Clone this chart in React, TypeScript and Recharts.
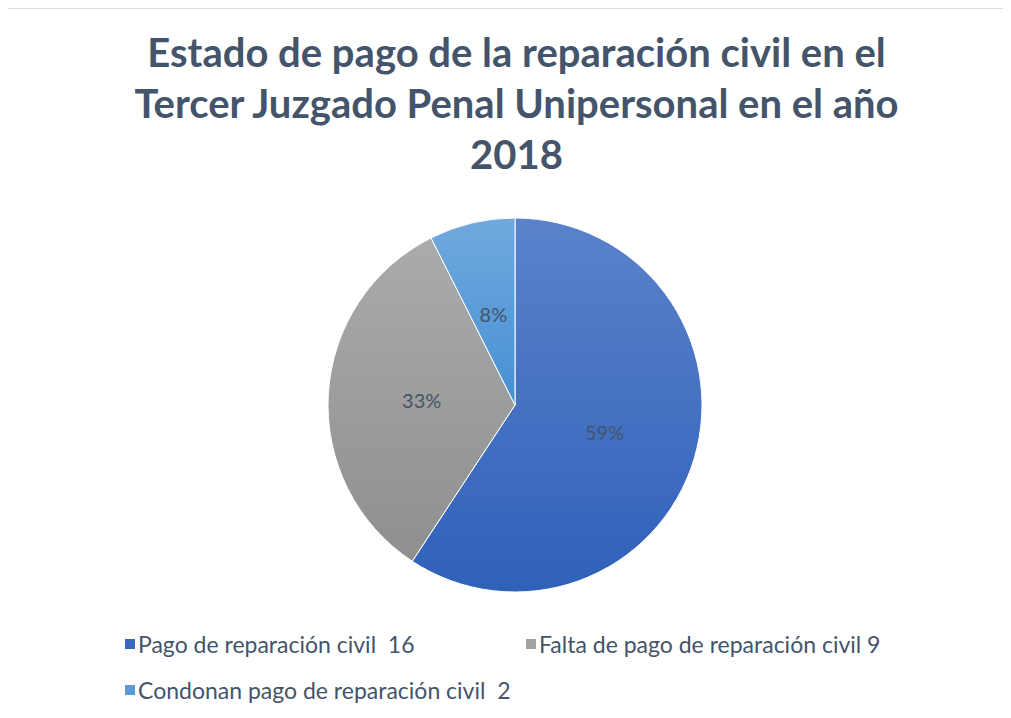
import React from "react";
import { PieChart, Pie, Cell, Legend } from "recharts";

const categories = [
  "Pago de reparación civil  16",
  "Falta de pago de reparación civil 9",
  "Condonan pago de reparación civil  2",
];
const values = [16, 9, 2];
const percentLabels = ["59%", "33%", "8%"];

const gradients = [
  ["#5b82cb", "#2f61b9"],
  ["#ababab", "#8f8f8f"],
  ["#70a9de", "#4690d3"],
];
const legendColors = ["#3a67be", "#a2a2a2", "#5a9bd8"];

const data = categories.map((name, i) => ({ name, value: values[i], label: percentLabels[i] }));

const RAD = Math.PI / 180;

const renderLabel = (props: any) => {
  const { cx, cy, midAngle, outerRadius, index } = props;
  const r = outerRadius * 0.5;
  const x = cx + r * Math.cos(-midAngle * RAD);
  const y = cy + r * Math.sin(-midAngle * RAD);
  return (
    <text
      x={x}
      y={y}
      textAnchor="middle"
      dominantBaseline="central"
      fill="#44546a"
      fontSize={20}
      fontFamily="Lato, sans-serif"
    >
      {percentLabels[index]}
    </text>
  );
};

const itemWidths = [401, 399, 800];

const renderLegend = () => (
  <div style={{ display: "flex", flexWrap: "wrap", width: 800, fontFamily: "Lato, sans-serif", fontSize: 23, color: "#44546a" }}>
    {categories.map((c, i) => (
      <div key={c} style={{ display: "flex", alignItems: "center", width: itemWidths[i], height: 46 }}>
        <span style={{ display: "inline-block", width: 10, height: 10, background: legendColors[i], marginRight: 3 }} />
        <span style={{ whiteSpace: "pre" }}>{c}</span>
      </div>
    ))}
  </div>
);

export default function App() {
  return (
    <div style={{ position: "relative", width: 1011, height: 718, margin: -8, overflow: "hidden", background: "#fff" }}>
      <div
        style={{
          position: "absolute",
          left: 0,
          top: 27,
          width: 1033,
          textAlign: "center",
          fontFamily: "Lato, sans-serif",
          fontWeight: 700,
          fontSize: 40,
          lineHeight: "51px",
          color: "#44546a",
        }}
      >
        Estado de pago de la reparación civil en el
        <br />
        Tercer Juzgado Penal Unipersonal en el año
        <br />
        2018
      </div>
      <PieChart
        width={1011}
        height={718}
        margin={{ top: 0, right: 0, bottom: 0, left: 0 }}
        style={{ position: "absolute", left: 0, top: 0 }}
      >
        <defs>
          {gradients.map((g, i) => (
            <linearGradient key={i} id={`grad${i}`} x1="0" y1="0" x2="0" y2="1">
              <stop offset="0%" stopColor={g[0]} />
              <stop offset="100%" stopColor={g[1]} />
            </linearGradient>
          ))}
        </defs>
        <Pie
          data={data}
          dataKey="value"
          nameKey="name"
          cx={515}
          cy={405}
          outerRadius={187}
          startAngle={90}
          endAngle={-270}
          stroke="#ffffff"
          strokeWidth={1}
          label={renderLabel}
          labelLine={false}
          isAnimationActive={false}
        >
          {data.map((d, i) => (
            <Cell key={d.name} fill={`url(#grad${i})`} />
          ))}
        </Pie>
        <Legend content={renderLegend} wrapperStyle={{ top: 621, left: 125, width: 800 }} />
      </PieChart>
      <div
        style={{
          position: "absolute",
          left: 5,
          top: 7,
          width: 1030,
          height: 730,
          borderTop: "2px solid #d6dce4",
          borderLeft: "2px solid #d6dce4",
          zIndex: 5,
          pointerEvents: "none",
        }}
      />
    </div>
  );
}
